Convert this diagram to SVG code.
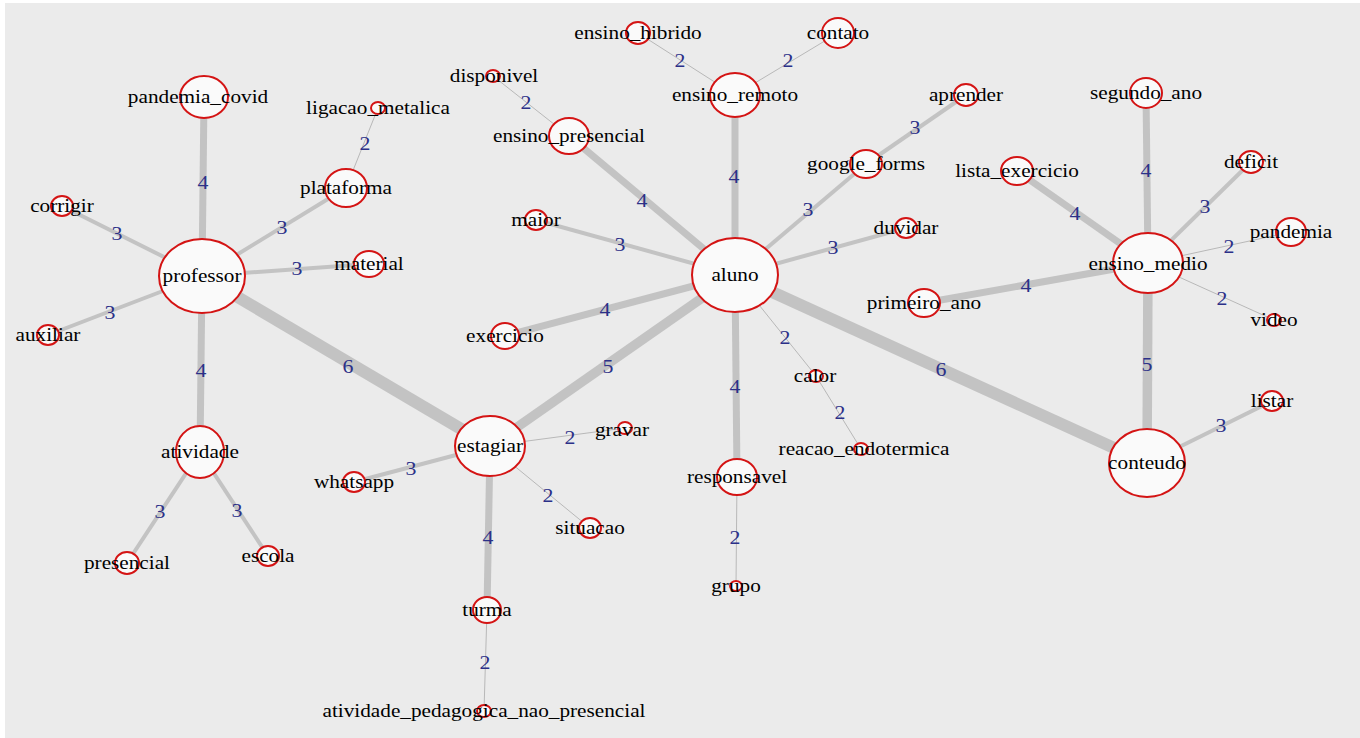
<svg xmlns="http://www.w3.org/2000/svg" width="1360" height="738" viewBox="0 0 1360 738">
<style>
.e6{stroke:#c3c3c3;stroke-width:12;fill:none}
.e5{stroke:#c3c3c3;stroke-width:9.5;fill:none}
.e4{stroke:#c3c3c3;stroke-width:7;fill:none}
.e3{stroke:#c3c3c3;stroke-width:4;fill:none}
.e2{stroke:#b8b8b8;stroke-width:1;fill:none}
.nd{fill:#fafafa;stroke:#d41414;stroke-width:2}
.lb{font-family:"Liberation Serif","Times New Roman",serif;font-size:18px;fill:#000;text-anchor:middle}
.el{font-family:"Liberation Serif","Times New Roman",serif;font-size:19px;fill:#2b3088;text-anchor:middle}
</style>
<rect x="0" y="0" width="1360" height="738" fill="#ffffff"/>
<rect x="5" y="3" width="1355" height="735" fill="#ebebeb"/>
<g id="edges">
<line class="e4" x1="202" y1="276" x2="204" y2="97"/>
<line class="e3" x1="202" y1="276" x2="62" y2="206"/>
<line class="e3" x1="202" y1="276" x2="346" y2="188"/>
<line class="e2" x1="346" y1="188" x2="378" y2="108"/>
<line class="e3" x1="202" y1="276" x2="369" y2="264"/>
<line class="e3" x1="202" y1="276" x2="48" y2="335"/>
<line class="e4" x1="202" y1="276" x2="200" y2="452"/>
<line class="e3" x1="200" y1="452" x2="127" y2="563"/>
<line class="e3" x1="200" y1="452" x2="268" y2="556"/>
<line class="e6" x1="202" y1="276" x2="490" y2="446"/>
<line class="e3" x1="490" y1="446" x2="354" y2="482"/>
<line class="e2" x1="490" y1="446" x2="625" y2="428"/>
<line class="e2" x1="490" y1="446" x2="590" y2="528"/>
<line class="e4" x1="490" y1="446" x2="487" y2="610"/>
<line class="e2" x1="487" y1="610" x2="484" y2="711"/>
<line class="e5" x1="490" y1="446" x2="735" y2="275"/>
<line class="e4" x1="735" y1="275" x2="569" y2="136"/>
<line class="e2" x1="569" y1="136" x2="493" y2="76"/>
<line class="e4" x1="735" y1="275" x2="735" y2="95"/>
<line class="e2" x1="735" y1="95" x2="638" y2="33"/>
<line class="e2" x1="735" y1="95" x2="838" y2="33"/>
<line class="e3" x1="735" y1="275" x2="536" y2="220"/>
<line class="e4" x1="735" y1="275" x2="505" y2="336"/>
<line class="e3" x1="735" y1="275" x2="866" y2="164"/>
<line class="e3" x1="866" y1="164" x2="966" y2="95"/>
<line class="e3" x1="735" y1="275" x2="906" y2="228"/>
<line class="e4" x1="735" y1="275" x2="737" y2="477"/>
<line class="e2" x1="737" y1="477" x2="736" y2="586"/>
<line class="e2" x1="735" y1="275" x2="816" y2="376"/>
<line class="e2" x1="816" y1="376" x2="861" y2="449"/>
<line class="e6" x1="735" y1="275" x2="1147" y2="463"/>
<line class="e5" x1="1147" y1="463" x2="1148" y2="263"/>
<line class="e3" x1="1147" y1="463" x2="1272" y2="401"/>
<line class="e4" x1="1148" y1="263" x2="1146" y2="93"/>
<line class="e4" x1="1148" y1="263" x2="1017" y2="171"/>
<line class="e3" x1="1148" y1="263" x2="1251" y2="162"/>
<line class="e2" x1="1148" y1="263" x2="1291" y2="232"/>
<line class="e2" x1="1148" y1="263" x2="1274" y2="320"/>
<line class="e4" x1="1148" y1="263" x2="924" y2="303"/>
</g>
<g id="edge-labels">
<text class="el" transform="translate(203 189) scale(1.15 1)">4</text>
<text class="el" transform="translate(117 240) scale(1.15 1)">3</text>
<text class="el" transform="translate(282 234) scale(1.15 1)">3</text>
<text class="el" transform="translate(365 150) scale(1.15 1)">2</text>
<text class="el" transform="translate(297 275) scale(1.15 1)">3</text>
<text class="el" transform="translate(110 319) scale(1.15 1)">3</text>
<text class="el" transform="translate(201 377) scale(1.15 1)">4</text>
<text class="el" transform="translate(160 518) scale(1.15 1)">3</text>
<text class="el" transform="translate(237 517) scale(1.15 1)">3</text>
<text class="el" transform="translate(348 373) scale(1.15 1)">6</text>
<text class="el" transform="translate(411 475) scale(1.15 1)">3</text>
<text class="el" transform="translate(570 444) scale(1.15 1)">2</text>
<text class="el" transform="translate(548 502) scale(1.15 1)">2</text>
<text class="el" transform="translate(488 544) scale(1.15 1)">4</text>
<text class="el" transform="translate(485 669) scale(1.15 1)">2</text>
<text class="el" transform="translate(608 373) scale(1.15 1)">5</text>
<text class="el" transform="translate(642 207) scale(1.15 1)">4</text>
<text class="el" transform="translate(526 109) scale(1.15 1)">2</text>
<text class="el" transform="translate(734 183) scale(1.15 1)">4</text>
<text class="el" transform="translate(680 67) scale(1.15 1)">2</text>
<text class="el" transform="translate(788 67) scale(1.15 1)">2</text>
<text class="el" transform="translate(620 251) scale(1.15 1)">3</text>
<text class="el" transform="translate(605 316) scale(1.15 1)">4</text>
<text class="el" transform="translate(808 216) scale(1.15 1)">3</text>
<text class="el" transform="translate(915 134) scale(1.15 1)">3</text>
<text class="el" transform="translate(833 254) scale(1.15 1)">3</text>
<text class="el" transform="translate(735 393) scale(1.15 1)">4</text>
<text class="el" transform="translate(735 544) scale(1.15 1)">2</text>
<text class="el" transform="translate(785 344) scale(1.15 1)">2</text>
<text class="el" transform="translate(840 419) scale(1.15 1)">2</text>
<text class="el" transform="translate(941 376) scale(1.15 1)">6</text>
<text class="el" transform="translate(1147 371) scale(1.15 1)">5</text>
<text class="el" transform="translate(1221 432) scale(1.15 1)">3</text>
<text class="el" transform="translate(1146 177) scale(1.15 1)">4</text>
<text class="el" transform="translate(1075 220) scale(1.15 1)">4</text>
<text class="el" transform="translate(1205 213) scale(1.15 1)">3</text>
<text class="el" transform="translate(1229 253) scale(1.15 1)">2</text>
<text class="el" transform="translate(1222 305) scale(1.15 1)">2</text>
<text class="el" transform="translate(1026 292) scale(1.15 1)">4</text>
</g>
<g id="professor"><ellipse class="nd" cx="202" cy="276" rx="43" ry="37"/><text class="lb" transform="translate(202 282) scale(1.18 1)">professor</text></g>
<g id="pandemia_covid"><ellipse class="nd" cx="204" cy="97" rx="24" ry="21"/><text class="lb" transform="translate(198 103) scale(1.18 1)">pandemia_covid</text></g>
<g id="corrigir"><ellipse class="nd" cx="62" cy="206" rx="11" ry="10"/><text class="lb" transform="translate(62 212) scale(1.18 1)">corrigir</text></g>
<g id="plataforma"><ellipse class="nd" cx="346" cy="188" rx="21" ry="19"/><text class="lb" transform="translate(346 194) scale(1.18 1)">plataforma</text></g>
<g id="ligacao_metalica"><ellipse class="nd" cx="378" cy="108" rx="7" ry="6"/><text class="lb" transform="translate(378 114) scale(1.18 1)">ligacao_metalica</text></g>
<g id="material"><ellipse class="nd" cx="369" cy="264" rx="15" ry="13"/><text class="lb" transform="translate(369 270) scale(1.18 1)">material</text></g>
<g id="auxiliar"><ellipse class="nd" cx="48" cy="335" rx="11" ry="10"/><text class="lb" transform="translate(48 341) scale(1.18 1)">auxiliar</text></g>
<g id="atividade"><ellipse class="nd" cx="200" cy="452" rx="24" ry="26"/><text class="lb" transform="translate(200 458) scale(1.18 1)">atividade</text></g>
<g id="presencial"><ellipse class="nd" cx="127" cy="563" rx="12" ry="11"/><text class="lb" transform="translate(127 569) scale(1.18 1)">presencial</text></g>
<g id="escola"><ellipse class="nd" cx="268" cy="556" rx="11" ry="10"/><text class="lb" transform="translate(268 562) scale(1.18 1)">escola</text></g>
<g id="estagiar"><ellipse class="nd" cx="490" cy="446" rx="35" ry="30"/><text class="lb" transform="translate(490 452) scale(1.18 1)">estagiar</text></g>
<g id="whatsapp"><ellipse class="nd" cx="354" cy="482" rx="11" ry="10"/><text class="lb" transform="translate(354 488) scale(1.18 1)">whatsapp</text></g>
<g id="gravar"><ellipse class="nd" cx="625" cy="428" rx="7" ry="6"/><text class="lb" transform="translate(622 436) scale(1.18 1)">gravar</text></g>
<g id="situacao"><ellipse class="nd" cx="590" cy="528" rx="11" ry="10"/><text class="lb" transform="translate(590 534) scale(1.18 1)">situacao</text></g>
<g id="turma"><ellipse class="nd" cx="487" cy="610" rx="14" ry="13"/><text class="lb" transform="translate(487 616) scale(1.18 1)">turma</text></g>
<g id="atividade_pedagogica_nao_presencial"><ellipse class="nd" cx="484" cy="711" rx="7" ry="6"/><text class="lb" transform="translate(484 717) scale(1.18 1)">atividade_pedagogica_nao_presencial</text></g>
<g id="aluno"><ellipse class="nd" cx="735" cy="275" rx="43" ry="37"/><text class="lb" transform="translate(735 281) scale(1.18 1)">aluno</text></g>
<g id="ensino_presencial"><ellipse class="nd" cx="569" cy="136" rx="20" ry="18"/><text class="lb" transform="translate(569 142) scale(1.18 1)">ensino_presencial</text></g>
<g id="disponivel"><ellipse class="nd" cx="493" cy="76" rx="7" ry="6"/><text class="lb" transform="translate(494 82) scale(1.18 1)">disponivel</text></g>
<g id="ensino_remoto"><ellipse class="nd" cx="735" cy="95" rx="25" ry="22"/><text class="lb" transform="translate(735 101) scale(1.18 1)">ensino_remoto</text></g>
<g id="ensino_hibrido"><ellipse class="nd" cx="638" cy="33" rx="12" ry="11"/><text class="lb" transform="translate(638 39) scale(1.18 1)">ensino_hibrido</text></g>
<g id="contato"><ellipse class="nd" cx="838" cy="33" rx="16" ry="15"/><text class="lb" transform="translate(838 39) scale(1.18 1)">contato</text></g>
<g id="maior"><ellipse class="nd" cx="536" cy="220" rx="11" ry="10"/><text class="lb" transform="translate(536 226) scale(1.18 1)">maior</text></g>
<g id="exercicio"><ellipse class="nd" cx="505" cy="336" rx="14" ry="13"/><text class="lb" transform="translate(505 342) scale(1.18 1)">exercicio</text></g>
<g id="google_forms"><ellipse class="nd" cx="866" cy="164" rx="16" ry="14"/><text class="lb" transform="translate(866 170) scale(1.18 1)">google_forms</text></g>
<g id="aprender"><ellipse class="nd" cx="966" cy="95" rx="12" ry="11"/><text class="lb" transform="translate(966 101) scale(1.18 1)">aprender</text></g>
<g id="duvidar"><ellipse class="nd" cx="906" cy="228" rx="11" ry="10"/><text class="lb" transform="translate(906 234) scale(1.18 1)">duvidar</text></g>
<g id="responsavel"><ellipse class="nd" cx="737" cy="477" rx="20" ry="18"/><text class="lb" transform="translate(737 483) scale(1.18 1)">responsavel</text></g>
<g id="grupo"><ellipse class="nd" cx="736" cy="586" rx="6" ry="5"/><text class="lb" transform="translate(736 592) scale(1.18 1)">grupo</text></g>
<g id="calor"><ellipse class="nd" cx="816" cy="376" rx="7" ry="6"/><text class="lb" transform="translate(815 382) scale(1.18 1)">calor</text></g>
<g id="reacao_endotermica"><ellipse class="nd" cx="861" cy="449" rx="7" ry="6"/><text class="lb" transform="translate(864 455) scale(1.18 1)">reacao_endotermica</text></g>
<g id="conteudo"><ellipse class="nd" cx="1147" cy="463" rx="38" ry="34"/><text class="lb" transform="translate(1147 469) scale(1.18 1)">conteudo</text></g>
<g id="ensino_medio"><ellipse class="nd" cx="1148" cy="263" rx="35" ry="30"/><text class="lb" transform="translate(1148 270) scale(1.18 1)">ensino_medio</text></g>
<g id="segundo_ano"><ellipse class="nd" cx="1146" cy="93" rx="16" ry="15"/><text class="lb" transform="translate(1146 99) scale(1.18 1)">segundo_ano</text></g>
<g id="lista_exercicio"><ellipse class="nd" cx="1017" cy="171" rx="16" ry="14"/><text class="lb" transform="translate(1017 177) scale(1.18 1)">lista_exercicio</text></g>
<g id="deficit"><ellipse class="nd" cx="1251" cy="162" rx="12" ry="11"/><text class="lb" transform="translate(1251 168) scale(1.18 1)">deficit</text></g>
<g id="pandemia"><ellipse class="nd" cx="1291" cy="232" rx="15" ry="14"/><text class="lb" transform="translate(1291 238) scale(1.18 1)">pandemia</text></g>
<g id="video"><ellipse class="nd" cx="1274" cy="320" rx="7" ry="6"/><text class="lb" transform="translate(1274 326) scale(1.18 1)">video</text></g>
<g id="primeiro_ano"><ellipse class="nd" cx="924" cy="303" rx="16" ry="14"/><text class="lb" transform="translate(924 309) scale(1.18 1)">primeiro_ano</text></g>
<g id="listar"><ellipse class="nd" cx="1272" cy="401" rx="11" ry="10"/><text class="lb" transform="translate(1272 407) scale(1.18 1)">listar</text></g>
</svg>
